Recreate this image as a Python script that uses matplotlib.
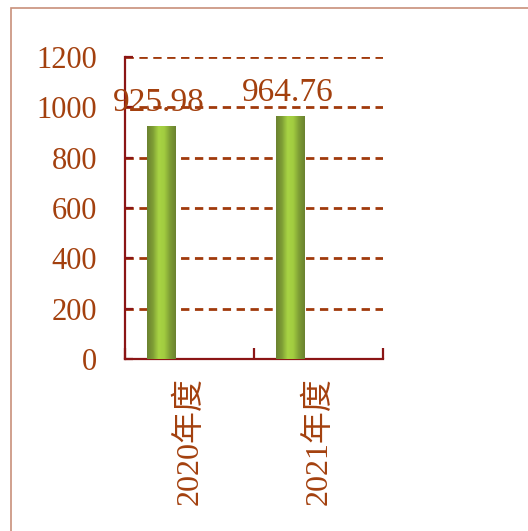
import matplotlib
matplotlib.use("Agg")
import matplotlib.pyplot as plt
import numpy as np
from matplotlib.patches import Rectangle
from matplotlib.colors import LinearSegmentedColormap

categories = ["2020年度", "2021年度"]
values = [925.98, 964.76]
value_labels = ["925.98", "964.76"]
yticks = [0, 200, 400, 600, 800, 1000, 1200]

plt.rcParams['font.family'] = ['Liberation Serif', 'Noto Sans CJK SC']
TXT = "#A3400E"
GRID = "#A03A0C"
SPINE = "#8B1515"

W, H = 528, 531
fig = plt.figure(figsize=(W / 100, H / 100), dpi=100)
fig.patches.append(Rectangle((11 / W, -0.1), 1.2, (531 - 8) / H + 0.1,
                             transform=fig.transFigure, fill=False,
                             edgecolor="#C8907A", linewidth=1.2))
ax = fig.add_axes([125 / W, (H - 359) / H, (383 - 125) / W, (359 - 57) / H])

x = np.arange(len(categories))
offset = -0.22
bw = 0.22
bars = ax.bar(x + offset, values, width=bw, color="#8AB038", zorder=3)

cmap = LinearSegmentedColormap.from_list(
    "g", ["#6B8230", "#7E9E35", "#A8D444", "#A2CC40", "#7E9E35", "#6B8230"])
grad = np.linspace(0, 1, 64).reshape(1, -1)
for b in bars:
    x0, y0 = b.get_x(), b.get_y()
    im = ax.imshow(grad, cmap=cmap, aspect="auto",
                   extent=(x0, x0 + b.get_width(), y0, y0 + b.get_height()),
                   zorder=4, interpolation="bilinear")
    im.set_clip_path(b)

for xi, v, lab in zip(x + offset, values, value_labels):
    ax.annotate(lab, (xi, v), xytext=(-2, 6), textcoords="offset points",
                ha="center", va="bottom", fontsize=24, color=TXT, zorder=6)

ax.set_xlim(-0.5, len(categories) - 0.5)
ax.set_ylim(0, 1200)
ax.set_yticks(yticks)
ax.set_yticklabels([str(t) for t in yticks], fontsize=22, color=TXT)
ax.yaxis.grid(True, linestyle=(0, (3.0, 2.0)), color=GRID, linewidth=2.0, zorder=1)
ax.set_axisbelow(True)
ax.set_xticks(x)
ax.set_xticklabels(categories, rotation=90, fontsize=23, color=TXT)
ax.set_xticks(np.arange(len(categories) + 1) - 0.5, minor=True)
ax.tick_params(axis="x", which="major", length=0, pad=13)
ax.tick_params(axis="x", which="minor", direction="in", length=8, width=1.6, color=SPINE)
ax.tick_params(axis="y", direction="in", length=6, width=1.6, color=SPINE, pad=20)
for s in ["top", "right"]:
    ax.spines[s].set_visible(False)
for s in ["left", "bottom"]:
    ax.spines[s].set_color(SPINE)
    ax.spines[s].set_linewidth(1.6)

fig.savefig("out.png", dpi=100)
